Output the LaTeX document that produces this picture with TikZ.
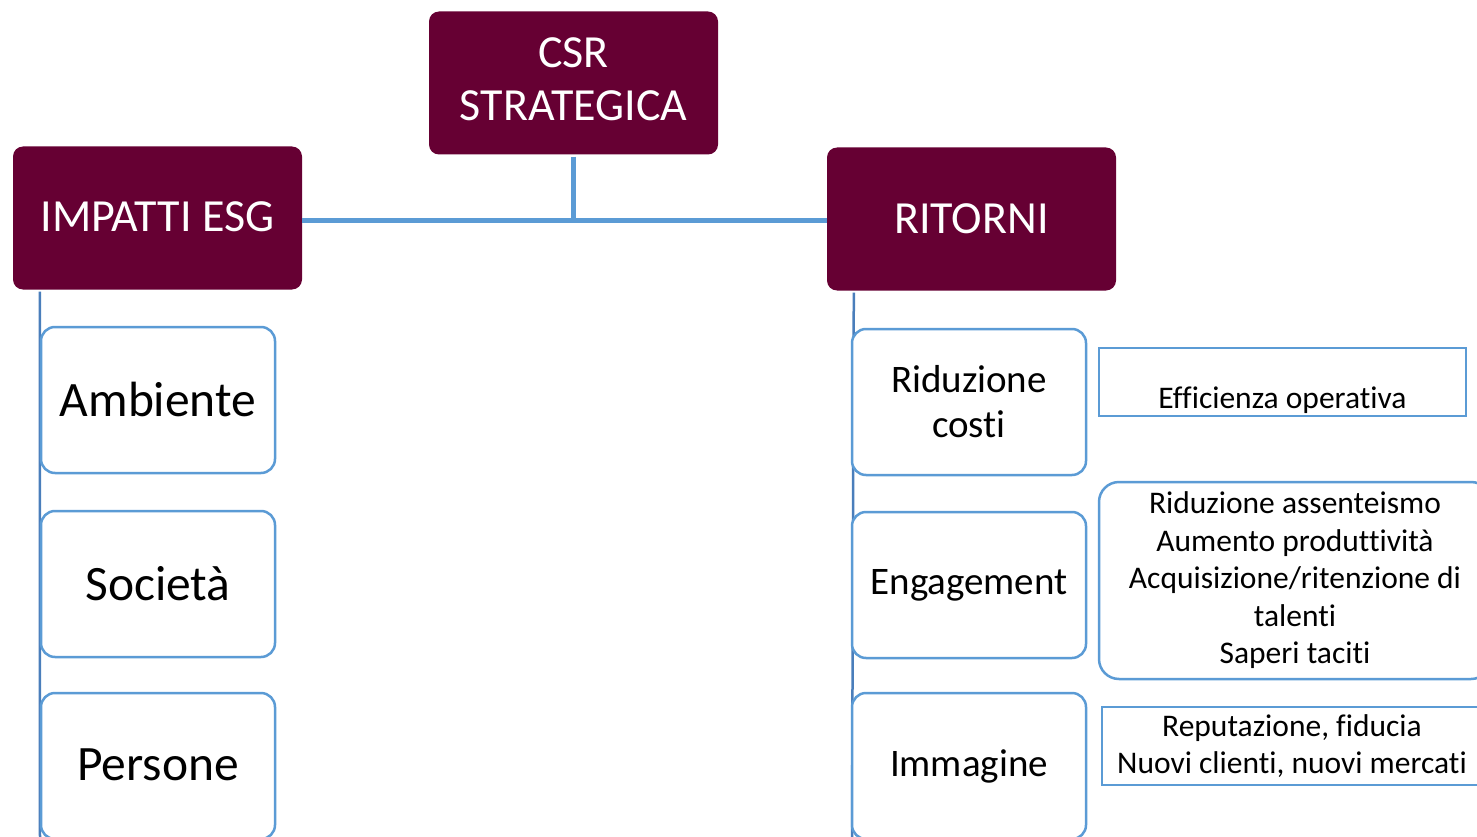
\documentclass[tikz,border=0pt]{standalone}
\usepackage{fontspec}
\setmainfont[Ligatures={NoCommon,NoContextual}]{Carlito}
\definecolor{maroon}{HTML}{660033}
\definecolor{lblue}{HTML}{5B9BD5}
\definecolor{dblue}{HTML}{4A7EBB}
\begin{document}
\begin{tikzpicture}[x=1pt,y=-1pt,
 head/.style={fill=maroon, text=white, rounded corners=10pt, inner sep=0pt, align=center,
   minimum width=289pt, minimum height=143pt, font=\fontsize{46}{54}\selectfont},
 child/.style={draw=lblue, line width=2.5pt, fill=white, rounded corners=14pt, inner sep=0pt,
   align=center, minimum width=234pt, minimum height=146pt},
 big/.style={font=\fontsize{49.5}{56}\selectfont},
 mid/.style={font=\fontsize{39}{45}\selectfont},
 detail/.style={draw=lblue, line width=2.5pt, fill=white, inner sep=0pt, align=center,
   font=\fontsize{31.5}{37.5}\selectfont},
 trunk/.style={draw=dblue, line width=2.5pt},
 branch/.style={draw=lblue, line width=5pt}
]
\useasboundingbox (0,0) rectangle (1477,837);
\clip (0,0) rectangle (1477,837);

% head boxes
\node[head] (csr) at (573.5,83) {\raisebox{4pt}{\begin{tabular}{@{}c@{}}CSR\\[-0.5pt]STRATEGICA\end{tabular}}};
\node[head] (esg) at (157.5,218) {\raisebox{3pt}{IMPATTI ESG}};
\node[head] (rit) at (971.5,219) {RITORNI};

% connectors between heads
\coordinate (hj) at ([yshift=-2pt]csr.south |- esg.east);
\draw[branch] ([yshift=-2pt]esg.east) -- ([yshift=-2pt]esg.east -| rit.west);
\draw[branch] ([yshift=-2pt]csr.south) -- (hj);

% trunks
\coordinate (lbot) at (40,837);
\coordinate (rbot) at (852,837);
\draw[trunk] ([xshift=27pt,yshift=-2pt]esg.south west) -- (lbot);
\draw[trunk] ([xshift=27pt,yshift=-2pt]rit.south west) -- (rbot);

% left children
\node[child, big] (amb) at (158,400) {\raisebox{2pt}{Ambiente}};
\node[child, big] (soc) at (158,584) {\raisebox{2pt}{Società}};
\node[child, big] (per) at (158,766) {\raisebox{2pt}{Persone}};

% right children
\node[child, mid] (rid) at (969,402) {Riduzione\\costi};
\node[child, mid] (eng) at (969,585) {Engagement};
\node[child, mid] (imm) at (969,766) {Immagine};

% detail boxes
\node[detail, minimum width=367pt, minimum height=68pt] (eff) at (1282.5,382)
  {\raisebox{-26pt}[0pt][0pt]{Efficienza operativa}};
\node[detail, rounded corners=20pt, minimum width=392pt, minimum height=197pt] (engd) at (1295,580.5)
  {Riduzione assenteismo\\Aumento produttività\\Acquisizione/ritenzione di\\talenti\\Saperi taciti};
\node[detail, minimum width=380pt, minimum height=78pt] (rep) at (1292,746)
  {Reputazione, fiducia\\Nuovi clienti, nuovi mercati};
\end{tikzpicture}
\end{document}
